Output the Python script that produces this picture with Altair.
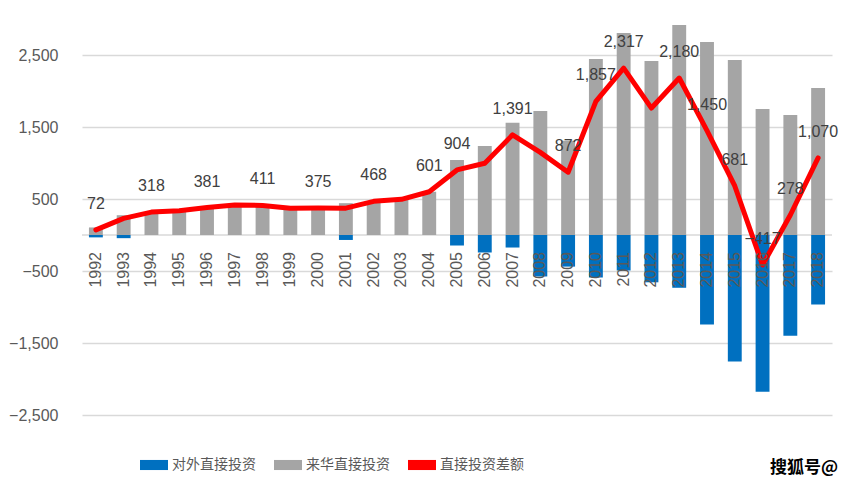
import altair as alt
import pandas as pd

years = [str(y) for y in range(1992, 2019)]
inward = [105, 275, 318, 338, 381, 417, 411, 370, 375, 442, 468, 496, 601,
          1042, 1236, 1560, 1722, 1310, 2444, 2806, 2417, 2917, 2681, 2431,
          1750, 1667, 2042]
outward = [-33, -44, 0, 0, 0, 0, 0, 0, 0, -69, 0, 0, 0,
           -146, -243, -174, -576, -439, -590, -493, -657, -733, -1243, -1757,
           -2176, -1398, -965]
net = [72, 231, 318, 338, 381, 417, 411, 370, 375, 373, 468, 496, 601,
       904, 996, 1391, 1148, 872, 1857, 2317, 1763, 2180, 1450, 681,
       -417, 278, 1070]
label_years = ["1992", "1994", "1996", "1998", "2000", "2002", "2004", "2005",
               "2007", "2009", "2010", "2011", "2013", "2014", "2015", "2016",
               "2017", "2018"]

s_out = "对外直接投资"
s_in = "来华直接投资"
s_net = "直接投资差额"
series = [s_out, s_in, s_net]
colors = ["#0070C0", "#A5A5A5", "#FF0000"]
y_ticks = [-2500, -1500, -500, 500, 1500, 2500]

bars_df = pd.DataFrame({
    "year": years * 2,
    "value": outward + inward,
    "series": [s_out] * len(years) + [s_in] * len(years),
})
net_df = pd.DataFrame({"year": years, "value": net, "series": [s_net] * len(years)})
net_df["show"] = net_df["year"].isin(label_years)
zero_df = pd.DataFrame({"v": [0]})

FONT = "Liberation Sans"
CJK = "Noto Sans CJK SC"

x_enc = alt.X("year:N", sort=years,
              scale=alt.Scale(paddingInner=0.5, paddingOuter=0.25),
              axis=None)
y_scale = alt.Scale(domain=[-2500, 3000], nice=False, zero=False)

color_scale = alt.Scale(domain=series, range=colors)
legend = alt.Legend(
    title=None, orient="none", direction="horizontal",
    legendX=58, legendY=432,
    symbolType="M-1,-0.36H1V0.36H-1Z", symbolSize=784,
    symbolStrokeWidth=0, symbolOpacity=1,
    labelFont=CJK, labelFontSize=14, labelColor="#595959",
    labelOffset=4, columnPadding=18, padding=0,
)

bars = alt.Chart(bars_df).mark_bar().encode(
    x=x_enc,
    y=alt.Y("value:Q", stack=None, scale=y_scale,
            axis=alt.Axis(values=y_ticks, format=",.0f", title=None,
                          domain=False, ticks=False, labelPadding=24,
                          labelFont=FONT, labelFontSize=16,
                          labelColor="#595959", gridColor="#D9D9D9",
                          gridWidth=1.5)),
    color=alt.Color("series:N", scale=color_scale, legend=legend),
)

zero = alt.Chart(zero_df).mark_rule(color="#D9D9D9", strokeWidth=1.5).encode(
    y=alt.Y("v:Q", scale=y_scale)
)

line = alt.Chart(net_df).mark_line(strokeWidth=5, strokeCap="round",
                                   strokeJoin="round").encode(
    x=x_enc,
    y=alt.Y("value:Q", scale=y_scale),
    color=alt.Color("series:N", scale=color_scale, legend=legend),
)

labels = alt.Chart(net_df).transform_filter("datum.show").mark_text(
    font=FONT, fontSize=16, color="#404040", baseline="middle", dy=-26
).encode(
    x=x_enc,
    y=alt.Y("value:Q", scale=y_scale),
    text=alt.Text("value:Q", format=","),
)

year_labels = alt.Chart(net_df).transform_calculate(zero="0").mark_text(
    font=FONT, fontSize=16, color="#595959", angle=270, align="right",
    baseline="middle", yOffset=17
).encode(
    x=x_enc,
    y=alt.Y("zero:Q", scale=y_scale),
    text="year:N",
)

chart = alt.layer(zero, bars, line, year_labels, labels).properties(
    width=750, height=396,
    autosize=alt.AutoSizeParams(type="none"),
    padding={"left": 74, "top": 11, "right": 10, "bottom": 62},
    title=alt.TitleParams("搜狐号@", orient="bottom", anchor="end",
                          font=CJK, fontSize=17, fontWeight="bold",
                          color="#000000", offset=-12),
).configure_view(stroke=None).resolve_scale(color="shared")

chart.save("out.html", embed_options={"renderer": "svg", "actions": False})
